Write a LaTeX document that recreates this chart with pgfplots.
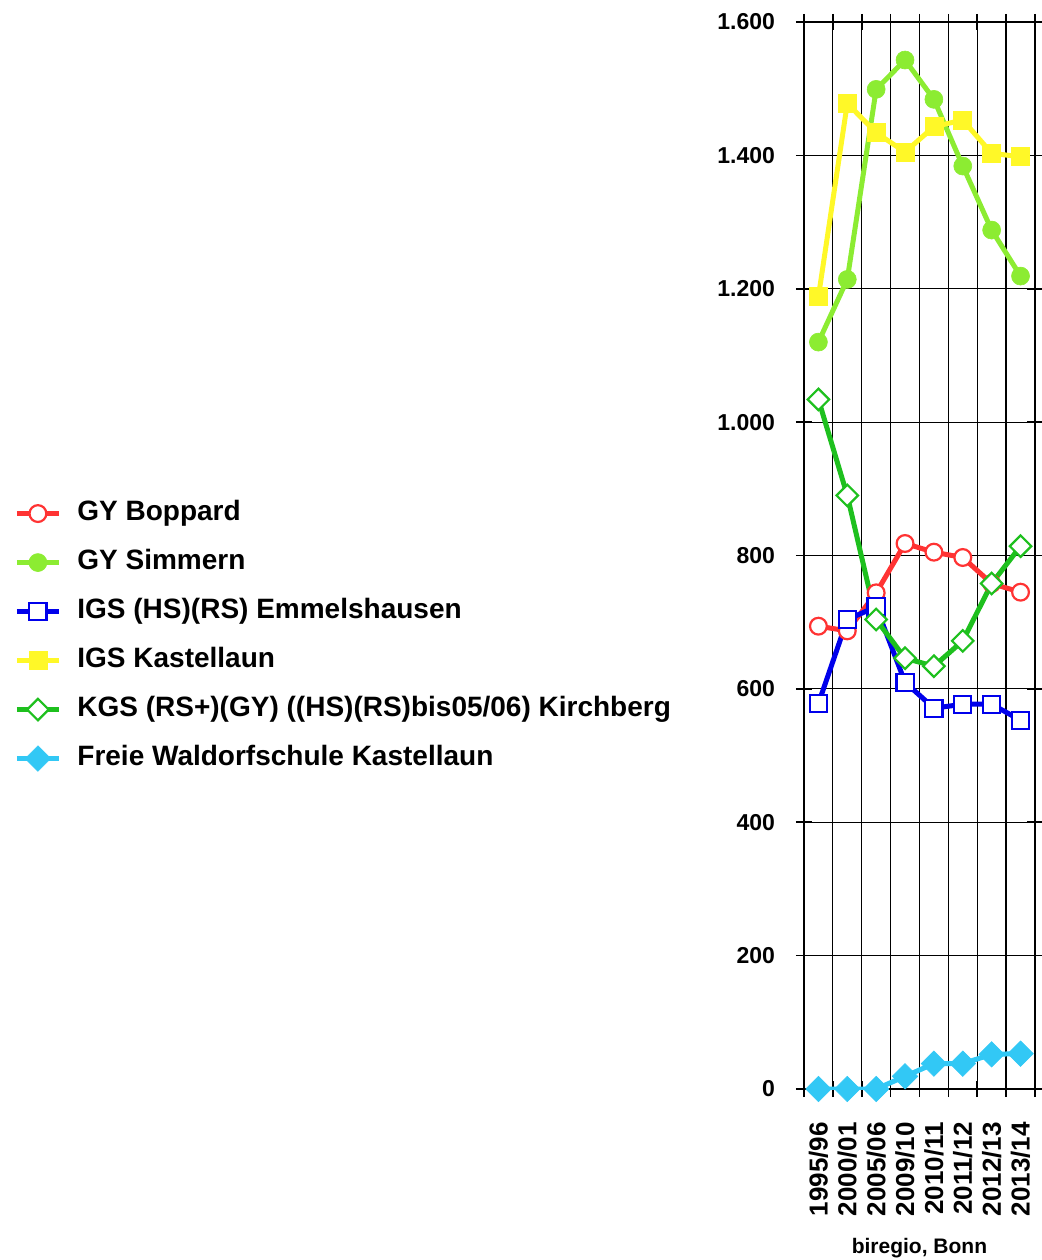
\documentclass[border=0pt]{standalone}
\usepackage{fontspec}
\setmainfont{Liberation Sans}
\usepackage{pgfplots}
\pgfplotsset{compat=1.18}
\definecolor{cRed}{RGB}{255,51,51}
\definecolor{cLime}{RGB}{140,236,50}
\definecolor{cBlue}{RGB}{0,0,235}
\definecolor{cYellow}{RGB}{255,248,40}
\definecolor{cGreen}{RGB}{30,192,30}
\definecolor{cCyan}{RGB}{50,200,245}
\begin{document}
\begin{tikzpicture}
\useasboundingbox (-402pt,-85.5pt) rectangle (118.5pt,544.5pt);
\begin{axis}[
  at={(0,0)}, anchor=south west,
  scale only axis, width=115.5pt, height=533.5pt,
  xmin=-0.5, xmax=7.5, ymin=0, ymax=1600,
  xtick={-0.5,0.5,...,7.5}, xticklabels={},
  extra x ticks={0,...,7},
  extra x tick labels={1995/96,2000/01,2005/06,2009/10,2010/11,2011/12,2012/13,2013/14},
  extra x tick style={major tick length=0pt, grid=none},
  x tick label style={rotate=90, anchor=east, xshift=-13pt, font=\bfseries\fontsize{13}{15}\selectfont},
  ytick={0,200,...,1600},
  y tick label style={xshift=-7pt, font=\bfseries\fontsize{11.5}{14}\selectfont},
  /pgf/number format/1000 sep={.},
  /pgf/number format/assume math mode=true,
  xmajorgrids, ymajorgrids,
  grid style={black, line width=0.6pt},
  axis line style={black, line width=0.8pt},
  tick style={black, line width=0.8pt},
  tick align=center, major tick length=8pt,
  xlabel={biregio, Bonn},
  xlabel style={font=\bfseries\fontsize{10.5}{12}\selectfont},
  legend cell align=left,
  legend style={at={(axis description cs:-3.42,0.4245)}, anchor=west,
    draw=none, fill=none, inner sep=0pt,
    font=\bfseries\fontsize{14}{16}\selectfont,
    nodes={inner sep=0pt, text height=10pt, text depth=3pt},
    row sep=11.5pt, column sep=8pt},
  legend image code/.code={\draw[#1, line width=2.5pt, mark repeat=2, mark phase=2] plot coordinates {(0pt,0pt) (10.5pt,0pt) (21pt,0pt)};},
]
\addplot[color=cRed, line width=2.5pt, mark=*, mark size=4.2pt, mark options={fill=white, draw=cRed, line width=1.1pt}]
  coordinates {(0,694) (1,687) (2,744) (3,818) (4,805) (5,797) (6,758) (7,745)};
\addlegendentry{GY Boppard}
\addplot[color=cLime, line width=2.5pt, mark=*, mark size=4.5pt, mark options={fill=cLime, draw=cLime, line width=0.3pt}]
  coordinates {(0,1120) (1,1214) (2,1499) (3,1543) (4,1484) (5,1384) (6,1288) (7,1219)};
\addlegendentry{GY Simmern}
\addplot[color=cBlue, line width=2.5pt, mark=square*, mark size=4.3pt, mark options={fill=white, draw=cBlue, line width=1.1pt}]
  coordinates {(0,578) (1,704) (2,723) (3,610) (4,571) (5,577) (6,577) (7,553)};
\addlegendentry{IGS (HS)(RS) Emmelshausen}
\addplot[color=cYellow, line width=2.5pt, mark=square*, mark size=4.5pt, mark options={fill=cYellow, draw=cYellow, line width=0.3pt}]
  coordinates {(0,1188) (1,1478) (2,1434) (3,1405) (4,1443) (5,1453) (6,1403) (7,1398)};
\addlegendentry{IGS Kastellaun}
\addplot[color=cGreen, line width=2.5pt, mark=square*, mark size=3.8pt, mark options={rotate=45, fill=white, draw=cGreen, line width=1.1pt}]
  coordinates {(0,1034) (1,890) (2,704) (3,646) (4,634) (5,672) (6,758) (7,814)};
\addlegendentry{KGS (RS+)(GY) ((HS)(RS)bis05/06) Kirchberg}
\addplot[color=cCyan, line width=2.5pt, mark=square*, mark size=4.5pt, mark options={rotate=45, fill=cCyan, draw=cCyan, line width=0.3pt}]
  coordinates {(0,0) (1,0) (2,0) (3,19) (4,38) (5,38) (6,52) (7,53)};
\addlegendentry{Freie Waldorfschule Kastellaun}
\end{axis}
\end{tikzpicture}
\end{document}
